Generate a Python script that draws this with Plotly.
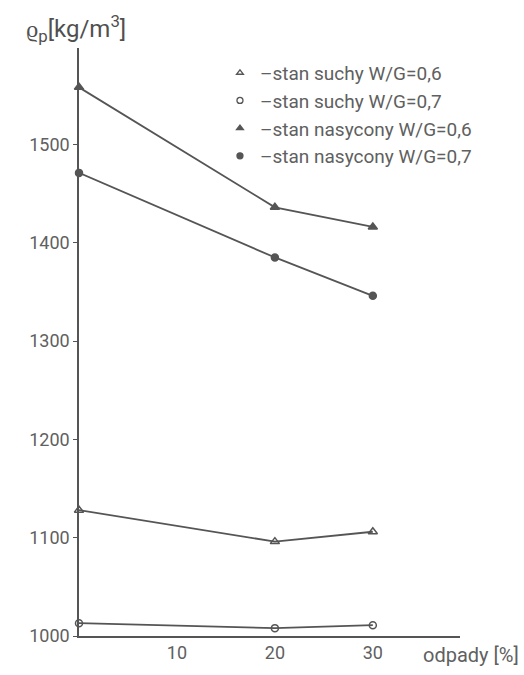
import plotly.graph_objects as go

x_vals = [0, 20, 30]
dry_06 = [1128, 1096, 1106]
dry_07 = [1013, 1008, 1011]
sat_06 = [1558, 1436, 1416]
sat_07 = [1471, 1385, 1346]

names = ["–stan suchy W/G=0,6", "–stan suchy W/G=0,7",
         "–stan nasycony W/G=0,6", "–stan nasycony W/G=0,7"]
symbols = ["triangle-up-open", "circle-open", "triangle-up", "circle"]
sizes = [8, 7, 8, 7]
series = [dry_06, dry_07, sat_06, sat_07]

y_ticks = [1000, 1100, 1200, 1300, 1400, 1500]
x_ticks = [10, 20, 30]

col = "#555555"
font = "Roboto"

fig = go.Figure()
for name, sym, sz, ys in zip(names, symbols, sizes, series):
    fig.add_trace(go.Scatter(
        x=x_vals, y=ys, mode="lines+markers",
        line=dict(color=col, width=1.8),
        marker=dict(symbol=sym, size=sz, color=col, line=dict(color=col, width=1.5)),
        showlegend=False, cliponaxis=False))
    fig.add_trace(go.Scatter(
        x=[None], y=[None], mode="markers", name=name,
        marker=dict(symbol=sym, size=6, color=col, line=dict(color=col, width=1.3))))

fig.update_layout(
    width=524, height=675,
    margin=dict(l=79, r=64, t=48, b=37),
    paper_bgcolor="white", plot_bgcolor="white",
    font=dict(family=font, color="#606060", size=17),
    legend=dict(x=0.37, y=0.99, xanchor="left", yanchor="top",
                bgcolor="rgba(0,0,0,0)", itemwidth=30,
                tracegroupgap=0,
                font=dict(family=font, size=19, color="#606060")),
    xaxis=dict(range=[0, 38.9], tickvals=x_ticks, showgrid=False, zeroline=False,
               showline=True, linecolor=col, linewidth=1.5, ticks="", ticklen=0,
               tickfont=dict(size=18)),
    yaxis=dict(range=[1000, 1598], tickvals=y_ticks, showgrid=False, zeroline=False,
               showline=True, linecolor=col, linewidth=1.5, ticks="outside",
               ticklen=4, tickcolor=col, tickfont=dict(size=18)),
    annotations=[
        dict(text="ϱ<sub>p</sub>[kg/m<sup>3</sup>]", xref="paper", yref="paper",
             x=-0.145, y=1.0, xanchor="left", yanchor="bottom", showarrow=False,
             font=dict(size=24, color="#505050")),
        dict(text="odpady [%]", xref="paper", yref="paper",
             x=1.16, y=-0.008, xanchor="right", yanchor="top", showarrow=False,
             font=dict(size=20, color="#606060")),
    ],
)

fig.write_html("out.html")
